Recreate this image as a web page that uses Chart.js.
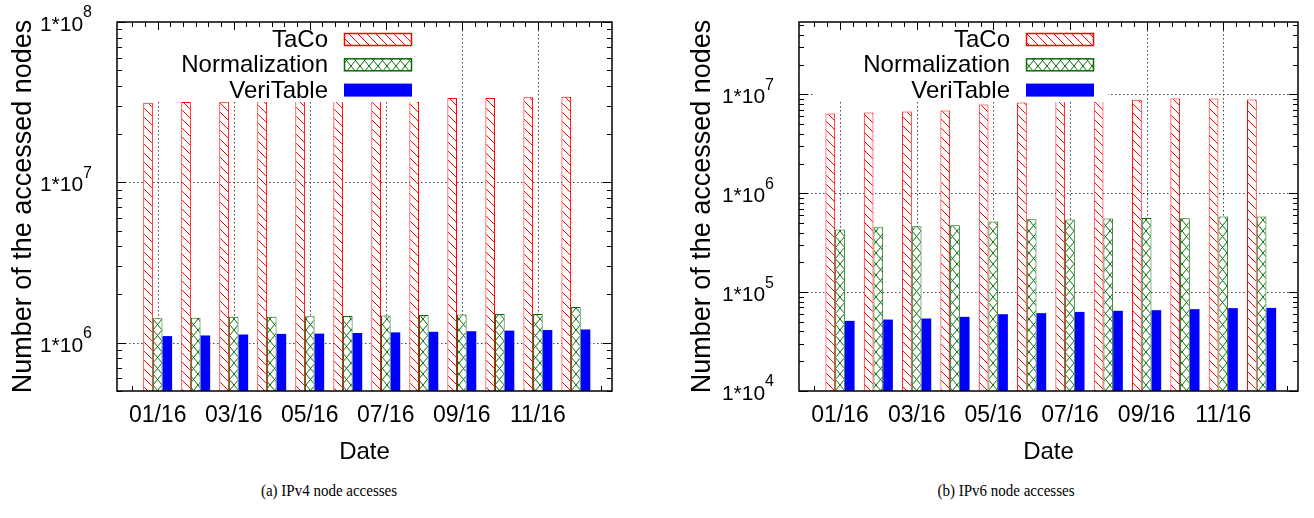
<!DOCTYPE html>
<html><head><meta charset="utf-8">
<script src="https://cdn.jsdelivr.net/npm/chart.js@4/dist/chart.umd.min.js"></script>
<style>
html,body{margin:0;padding:0;background:#fff}
body{width:1314px;height:518px;position:relative;overflow:hidden}
.w{position:absolute;top:0;height:470px}
#w1{left:0;width:650px}
#w2{left:660px;width:654px}
.cap{position:absolute;top:482px;font-family:"Liberation Serif","DejaVu Serif",serif;font-size:15px;color:#000;white-space:nowrap;transform:translateX(-50%) scaleY(1.12)}
</style></head>
<body>
<div class="w" id="w1"><canvas id="c1"></canvas></div>
<div class="w" id="w2"><canvas id="c2"></canvas></div>
<div class="cap" style="left:329px">(a) IPv4 node accesses</div>
<div class="cap" style="left:1006px">(b) IPv6 node accesses</div>
<script>
// ---- data ----
const months = ['01/16','02/16','03/16','04/16','05/16','06/16','07/16','08/16','09/16','10/16','11/16','12/16'];
const tickLabels = ['01/16','03/16','05/16','07/16','09/16','11/16'];
const seriesNames = ['TaCo','Normalization','VeriTable'];
const ipv4TaCo = [3.14e7,3.17e7,3.18e7,3.21e7,3.26e7,3.28e7,3.31e7,3.31e7,3.36e7,3.36e7,3.39e7,3.42e7];
const ipv4Norm = [1.42e6,1.43e6,1.45e6,1.45e6,1.46e6,1.47e6,1.48e6,1.49e6,1.50e6,1.51e6,1.51e6,1.67e6];
const ipv4Veri = [1.10e6,1.11e6,1.125e6,1.135e6,1.14e6,1.15e6,1.16e6,1.17e6,1.18e6,1.19e6,1.20e6,1.21e6];
const ipv6TaCo = [6.42e6,6.57e6,6.73e6,6.88e6,7.92e6,8.30e6,8.61e6,8.69e6,8.82e6,9.11e6,9.11e6,8.90e6];
const ipv6Norm = [4.29e5,4.53e5,4.63e5,4.74e5,5.17e5,5.45e5,5.42e5,5.55e5,5.62e5,5.58e5,5.81e5,5.81e5];
const ipv6Veri = [5.12e4,5.28e4,5.41e4,5.62e4,5.98e4,6.13e4,6.31e4,6.47e4,6.57e4,6.73e4,6.89e4,6.93e4];
const yTitle = 'Number of the accessed nodes';
const xTitle = 'Date';

const FONT = '"Liberation Sans", Arial, sans-serif';
const RED = '#ff0000', GREEN = '#0a6e0a', BLUE = '#0000ff';

function hatch(color){
  const s = 9, c = document.createElement('canvas'); c.width = s; c.height = s;
  const g = c.getContext('2d');
  g.fillStyle = '#fff'; g.fillRect(0,0,s,s);
  g.strokeStyle = color; g.lineWidth = 1;
  g.beginPath(); g.moveTo(-1,-1); g.lineTo(s+1,s+1);
  g.moveTo(-1,s-1); g.lineTo(1,s+1); g.moveTo(s-1,-1); g.lineTo(s+1,1); g.stroke();
  return g.createPattern(c,'repeat');
}
function cross(color){
  const w = 9, h = 11, c = document.createElement('canvas'); c.width = w; c.height = h;
  const g = c.getContext('2d');
  g.fillStyle = '#fff'; g.fillRect(0,0,w,h);
  g.strokeStyle = color; g.lineWidth = 1;
  g.beginPath(); g.moveTo(0,0); g.lineTo(w,h); g.moveTo(w,0); g.lineTo(0,h); g.stroke();
  return g.createPattern(c,'repeat');
}

const xTickPos = tickLabels.map(l => months.indexOf(l) + 1);
const xMinor = [];
for (let k = 1; k <= 3*months.length + 2; k++) xMinor.push(k/3);

function xTicks(chart, top){
  const {ctx, chartArea:a, scales:{x}} = chart;
  ctx.save(); ctx.strokeStyle = '#000'; ctx.lineWidth = 1; ctx.beginPath();
  xMinor.forEach(t => {
    const px = Math.round(x.getPixelForValue(t)) + 0.5;
    const L = xTickPos.some(m => Math.abs(m - t) < 1e-6) ? 8 : 5;
    if (top){ ctx.moveTo(px, a.top); ctx.lineTo(px, a.top+L); }
    else { ctx.moveTo(px, a.bottom); ctx.lineTo(px, a.bottom-L); }
  });
  ctx.stroke(); ctx.restore();
}

const framePlugin = {
  id: 'frame',
  beforeDatasetsDraw(chart){
    const {ctx, chartArea:a, scales:{x,y}} = chart;
    ctx.save();
    ctx.strokeStyle = '#444'; ctx.lineWidth = 1; ctx.setLineDash([1.5,2.5]);
    ctx.beginPath();
    for (let e = Math.ceil(Math.log10(y.min)); Math.pow(10,e) < y.max*0.999; e++){
      const v = Math.pow(10,e); if (v <= y.min*1.001) continue;
      const py = Math.round(y.getPixelForValue(v)) + 0.5;
      ctx.moveTo(a.left, py); ctx.lineTo(a.right, py);
    }
    xTickPos.forEach(t => { const px = Math.round(x.getPixelForValue(t)) + 0.5; ctx.moveTo(px, a.top); ctx.lineTo(px, a.bottom); });
    ctx.stroke();
    ctx.restore();
    xTicks(chart, false);
  },
  afterDatasetsDraw(chart){
    const {ctx, chartArea:a, scales:{x,y}} = chart;
    ctx.save();
    // legend
    ctx.fillStyle = '#fff'; ctx.fillRect(a.left+14, a.top+1, 295, 79);
    ctx.font = '24px ' + FONT; ctx.textAlign = 'right'; ctx.textBaseline = 'middle';
    chart.data.datasets.forEach((ds,i) => {
      const cy = a.top + 17.5 + i*25.3;
      ctx.fillStyle = '#000'; ctx.fillText(ds.label, a.left+211, cy+1);
      ctx.fillStyle = ds.backgroundColor; ctx.fillRect(a.left+227, cy-6.5, 68, 13);
      if (ds.borderWidth){ ctx.strokeStyle = ds.borderColor; ctx.lineWidth = 1.5; ctx.strokeRect(a.left+227.5, cy-6, 67, 12); }
    });
    // y ticks
    ctx.strokeStyle = '#000'; ctx.lineWidth = 1; ctx.beginPath();
    const e0 = Math.floor(Math.log10(y.min)), e1 = Math.ceil(Math.log10(y.max));
    for (let e = e0; e <= e1; e++) for (let m = 1; m <= 9; m++){
      const v = m*Math.pow(10,e); if (v < y.min*0.999 || v > y.max*1.001) continue;
      const py = Math.round(y.getPixelForValue(v)) + 0.5, L = m === 1 ? 9 : 5;
      ctx.moveTo(a.left, py); ctx.lineTo(a.left+L, py);
      ctx.moveTo(a.right, py); ctx.lineTo(a.right-L, py);
    }
    ctx.stroke();
    ctx.restore();
    xTicks(chart, true);
    ctx.save();
    ctx.strokeStyle = '#000'; ctx.lineWidth = 1.5; ctx.strokeRect(a.left, a.top, a.right-a.left, a.bottom-a.top);
    // y labels 1*10^n
    ctx.fillStyle = '#000'; ctx.textBaseline = 'middle'; ctx.textAlign = 'left';
    for (let e = e0; e <= e1; e++){
      const v = Math.pow(10,e); if (v < y.min*0.999 || v > y.max*1.001) continue;
      const py = y.getPixelForValue(v);
      ctx.font = '16px ' + FONT; const sw = ctx.measureText(String(e)).width;
      ctx.font = '21px ' + FONT; const bw = ctx.measureText('1*10').width;
      const right = a.left - 25;
      ctx.fillText('1*10', right - sw - bw, py + 3);
      ctx.font = '16px ' + FONT; ctx.fillText(String(e), right - sw, py - 9);
    }
    ctx.restore();
  }
};

function makeChart(id, taco, norm, veri, ymin, ymax, yw, padR, titlePad){
  const pts = arr => arr.map((v,i) => ({x: i+1, y: v}));
  const ctx = document.getElementById(id).getContext('2d');
  return new Chart(ctx, {
    type: 'bar',
    data: { datasets: [
      {label: seriesNames[0], data: pts(taco), backgroundColor: hatch(RED), borderColor: RED, borderWidth: 1},
      {label: seriesNames[1], data: pts(norm), backgroundColor: cross(GREEN), borderColor: GREEN, borderWidth: 1},
      {label: seriesNames[2], data: pts(veri), backgroundColor: BLUE, borderColor: BLUE, borderWidth: 0}
    ]},
    options: {
      responsive: true, maintainAspectRatio: false, animation: false,
      layout: {padding: {left: 0, top: 22, right: padR, bottom: 0}},
      datasets: {bar: {categoryPercentage: 0.76, barPercentage: 1.0}},
      plugins: {legend: {display: false}, tooltip: {enabled: false}},
      scales: {
        x: {type: 'linear', min: -0.07, max: 12.95, offset: false,
            afterBuildTicks: s => { s.ticks = xTickPos.map(v => ({value: v})); },
            afterFit: s => { s.height = 79; },
            grid: {display: false, drawTicks: false}, border: {display: false},
            ticks: {autoSkip: false, maxRotation: 0, padding: 11, color: '#000', font: {family: FONT, size: 23},
                    callback: (v, i) => tickLabels[i]},
            title: {display: true, text: xTitle, color: '#000', font: {family: FONT, size: 24}, padding: {top: 3, bottom: 3}}},
        y: {type: 'logarithmic', min: ymin, max: ymax,
            afterFit: s => { s.width = yw; },
            grid: {display: false, drawTicks: false}, border: {display: false},
            ticks: {display: false},
            title: {display: true, text: yTitle, color: '#000', font: {family: FONT, size: 27}, padding: {top: titlePad, bottom: 0}}}
      }
    },
    plugins: [framePlugin]
  });
}
makeChart('c1', ipv4TaCo, ipv4Norm, ipv4Veri, 5e5, 1e8, 117, 38, 7);
makeChart('c2', ipv6TaCo, ipv6Norm, ipv6Veri, 1e4, 5.4e7, 139, 16, 26);
</script>
</body></html>
